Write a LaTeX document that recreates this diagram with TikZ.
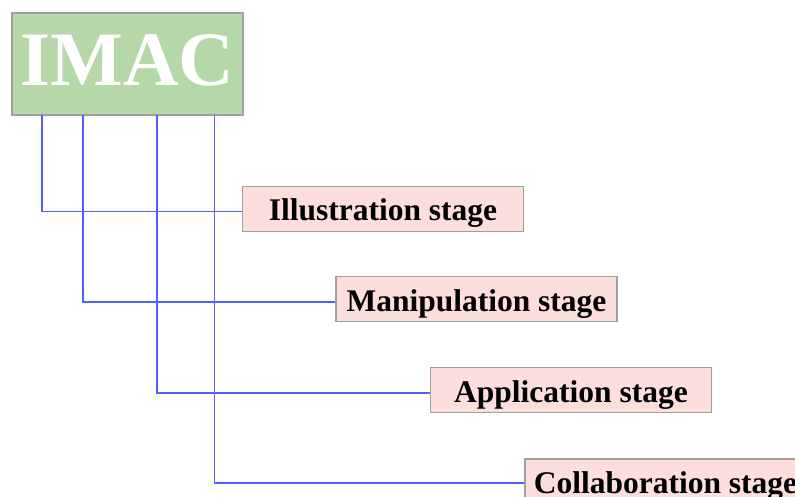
\documentclass[tikz,border=0pt]{standalone}
\usepackage{fontspec}
\setmainfont{Liberation Serif}
\definecolor{imacgreen}{RGB}{182,215,168}
\definecolor{stagepink}{RGB}{252,222,220}
\definecolor{boxgray}{RGB}{160,160,160}
\definecolor{linkblue}{RGB}{85,95,255}
\tikzset{
  stagebox/.style={draw=boxgray,line width=1.2pt,fill=stagepink,minimum width=281,minimum height=45,inner sep=0pt,text height=24pt,text depth=0pt,font=\fontsize{31.5}{31.5}\selectfont\bfseries},
  link/.style={draw=linkblue,line width=1.1pt}
}
\begin{document}
\begin{tikzpicture}[x=1pt,y=1pt,yscale=-1,xscale=1]
\useasboundingbox (0,0) rectangle (795,497);
\clip (0,0) rectangle (795,497);
% root box
\node [draw=boxgray,line width=1.2pt,fill=imacgreen,minimum width=231,minimum height=102,inner sep=0pt,text height=44pt,text depth=0pt,text=white,font=\fontsize{77}{77}\selectfont\bfseries] (imac) at (127.5,64) {IMAC};
% stages
\node [stagebox] (ill) at (383,208.7) {Illustration stage};
\node [stagebox] (man) at (476.5,299) {Manipulation stage};
\node [stagebox] (app) at (571,390) {Application stage};
\node [stagebox] (col) at (665.5,481.5) {Collaboration stage};
% taps under the root
\coordinate (tapA) at (42,115);
\coordinate (tapB) at (83,115);
\coordinate (tapC) at (157,115);
\coordinate (tapD) at (214.5,115);
\draw [link] (tapA) |- ([yshift=3pt]ill.west);
\draw [link] (tapB) |- ([yshift=3pt]man.west);
\draw [link] (tapC) |- ([yshift=3pt]app.west);
\draw [link] (tapD) |- ([yshift=1.5pt]col.west);
\end{tikzpicture}
\end{document}
